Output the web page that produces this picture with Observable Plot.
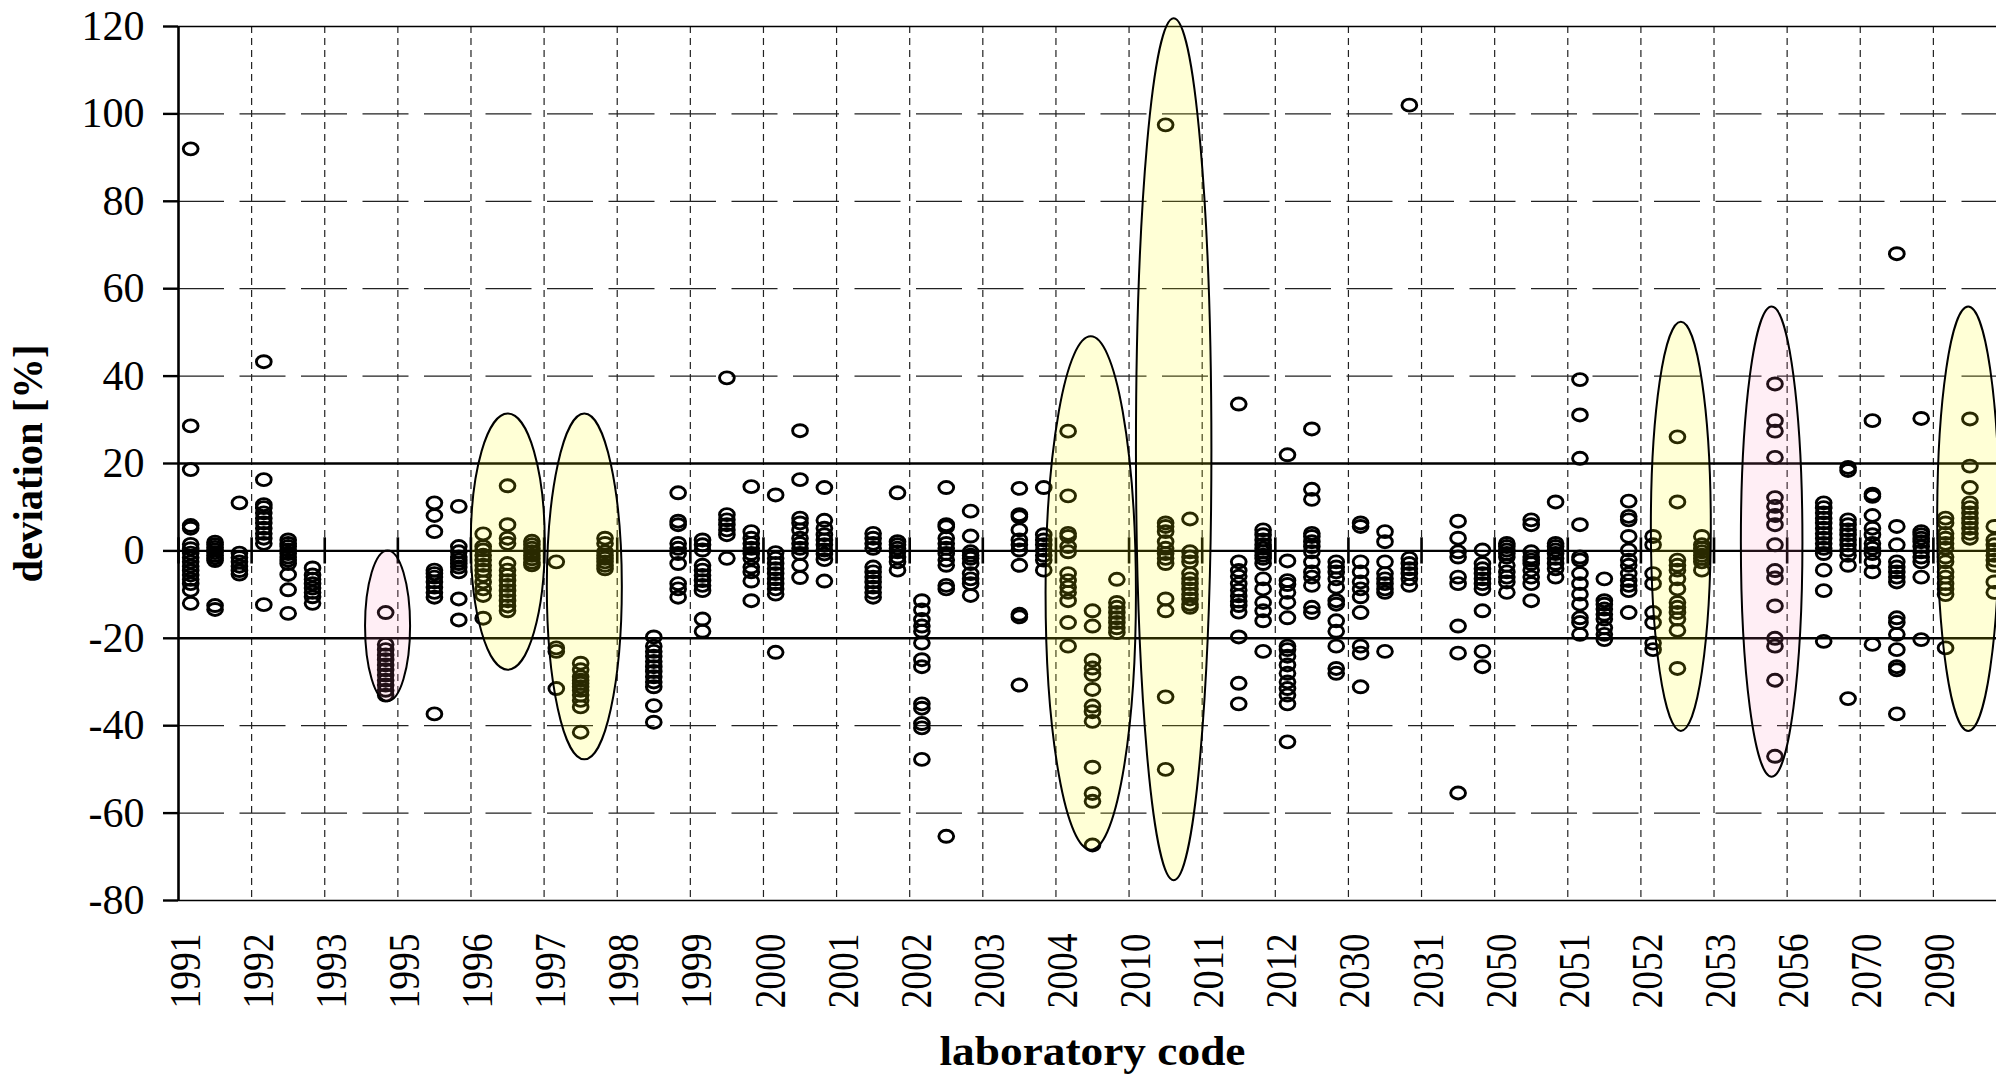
<!DOCTYPE html>
<html><head><meta charset="utf-8">
<script src="https://cdn.jsdelivr.net/npm/d3@7"></script>
<script src="https://cdn.jsdelivr.net/npm/@observablehq/plot@0.6"></script>
<style>html,body{margin:0;padding:0;background:#fff;overflow:hidden;} svg{max-width:none !important;}</style>
</head><body><div id="chart"></div>
<script>
const labs = ["1991","1992","1993","1995","1996","1997","1998","1999","2000","2001","2002","2003","2004","2010","2011","2012","2030","2031","2050","2051","2052","2053","2056","2070","2090"];

// first sample column of each laboratory band
const sampleA = [
  [92, 28.6, 18.6, 5.8, 5.2, 1.5, 0.5, -0.5, -1.5, -2.5, -3.5, -4.5, -5.5, -6.5, -7.5, -9, -12],
  [43.3, 16.3, 10.6, 9.9, 8.7, 7.5, 6.4, 5.2, 4, 2.9, 1.7, -12.3],
  [],
  [],
  [3.9, 1, 0.2, -1, -2.1, -3.3, -4.4, -5.6, -7.1, -8.7, -10.2, -15.4],
  [-2.5, -22.2, -23, -31.5],
  [],
  [2.5, 1.4, 0.2, -3.3, -4.4, -5.6, -6.8, -7.9, -9.1, -15.6, -18.4],
  [12.8, -0.4, -1.7, -2.9, -4.1, -5.2, -6.4, -7.5, -8.7, -9.9, -23.2],
  [],
  [-11.4, -13.5, -15.7, -17.2, -18.4, -21.1, -24.9, -26.5, -35, -36, -39.5, -40.5, -47.7],
  [],
  [27.4, 12.6, 4, 3.3, 1, -0.2, -5.2, -6.8, -8.3, -9.5, -11.4, -16.4, -21.8],
  [],
  [],
  [22, -2.3, -6.8, -7.7, -9.5, -11.8, -15.3, -21.8, -22.6, -24.1, -26.1, -28, -30, -31.5, -33, -35, -43.7],
  [6.4, 5.6, -2.5, -4.8, -7.1, -8.7, -10.5, -14.1, -21.8, -23.4, -31.1],
  [],
  [1.7, 1, 0.2, -0.6, -1.4, -3.3, -4.8, -6, -7.1, -9.5],
  [39.2, 31.1, 21.2, 6, -1.4, -2.1, -5.2, -7.5, -9.9, -12.2, -15.3, -16.4, -19.1],
  [3.3, 1.4, -5.2, -7.5, -14.1, -16.4, -21.1, -22.6],
  [],
  [],
  [29.8, 13, 12.5, 8.1, 5.2, 3.7, 1.7, 0.6, -0.6, -2.5, -4.8, -21.4],
  [7.5, 6.4, 4, 2.9, 1.7, 0.6, -1.4, -2.5, -4.8, -6, -7.5, -8.7, -10, -22.2]
];

// second sample column
const sampleB = [
  [2, 1.4, 0.8, 0.2, -0.4, -1, -1.6, -2.2, -12.5, -13.4],
  [2.5, 1.7, 1, 0.2, -0.6, -1.4, -2.1, -2.9, -5.4, -8.9, -14.3],
  [],
  [11, 8.1, 4.4, -4.4, -5.2, -6, -7.1, -8.3, -9.5, -10.6, -37.3],
  [14.9, 6, 2.9, 1.7, -2.9, -4.4, -5.6, -6.8, -7.9, -9.1, -10.2, -11.4, -12.6, -13.7],
  [-25.7, -27.2, -28.8, -29.6, -30.3, -31.1, -31.9, -33, -34.2, -35.7, -41.5],
  [-19.7, -21.8, -23, -24.1, -25.3, -26.5, -27.6, -28.8, -30, -31.1, -35.4, -39.2],
  [39.6, 8.3, 7.1, 6, 4.8, 3.7, -1.7],
  [27.5, 16.3, 7.5, 6.4, 4.8, 2.9, 1.7, 0.6, -0.6, -3.3, -6.1],
  [4, 2.9, 1.7, 0.6, -3.7, -4.8, -6, -7.1, -8.3, -9.5, -10.6],
  [14.5, 6, 5.5, 2.9, 1.7, 0.6, -0.6, -2.1, -3.3, -7.9, -8.7, -65.3],
  [14.3, 8.3, 7.8, 4.8, 2.5, 1.4, 0.2, -3.3, -14.5, -15.1, -30.7],
  [-13.7, -17.2, -25, -26.8, -28.3, -31.7, -35.5, -36.8, -39, -49.5, -55.5, -57.3, -67.3],
  [97.5, 6.4, 5.6, 4.4, 2.1, 0.6, -0.6, -1.7, -2.9, -11, -13.7, -33.4, -50],
  [33.6, -2.5, -4.5, -5.8, -7.5, -9, -10.3, -11.5, -12.5, -14, -19.7, -30.3, -35],
  [27.9, 14.1, 11.8, 4, 3.3, 2.1, 1, -0.2, -2.5, -4.8, -6, -7.9, -12.9, -14.1],
  [4.4, 2.1, -2.5, -5.2, -6.4, -7.5, -8.7, -9.5, -23],
  [6.8, 2.9, -0.2, -1.4, -6, -7.5, -17.2, -23.4, -55.4],
  [7.1, 6, -0.2, -1.4, -2.1, -2.9, -4.4, -6, -7.5, -11.4],
  [-6.4, -11.4, -12.2, -13.3, -14.5, -15.6, -17.6, -19.1, -20.3],
  [26.1, 11.2, -2.1, -3.3, -4.4, -6.4, -8.7, -11.8, -12.9, -14.1, -15.6, -18.2, -26.9],
  [],
  [11, 9.9, 8.7, 7.5, 6.4, 5.2, 4, 2.9, 1.7, 0.6, -0.6, -4.4, -9.1, -20.7],
  [68, 5.6, 1.4, -2.5, -3.7, -4.8, -6, -7.1, -15.3, -16.4, -19.1, -22.6, -26.5, -27.2, -37.3],
  [30.2, 19.4, 14.5, 11, 9.9, 8.7, 7.5, 6.4, 5.2, 4, 2.9]
];

// third sample column
const sampleC = [
  [11, -0.5, -1.5, -2.5, -3.5, -4.5, -5.3],
  [-3.9, -5.5, -6.5, -7.5, -8.5, -9.5, -10.5, -12],
  [-14.1, -21.4, -22.6, -23.8, -24.9, -26.1, -27.2, -28.4, -29.6, -30.7, -31.9, -33],
  [10.2, 1, -0.2, -1.4, -2.1, -2.9, -3.7, -4.8, -11, -15.8],
  [2.2, 1.4, 0.6, -0.2, -1, -1.8, -2.6, -3.2],
  [2.9, 1.7, -0.2, -1, -1.7, -2.5, -3.3, -4.1],
  [13.3, 6.8, 6, 1.7, 0.6, -0.6, -2.9, -7.5, -8.7, -10.6],
  [14.7, 4.4, 2.9, 1.7, 0.6, -0.6, -1.7, -3.7, -4.8, -6.9, -11.4],
  [14.5, 7, 5.2, 3.7, 2.5, 1.4, 0.2, -0.7, -2, -6.9],
  [13.3, 2.1, 1.4, 0.6, -0.2, -1.4, -2.5, -4.4],
  [9.1, 3.4, -0.2, -1, -1.7, -2.9, -5.2, -6.4, -7.5, -10.2],
  [14.5, 3.7, 2.5, 1.4, 0.2, -1, -2.1, -4.4],
  [-6.5, -11.8, -12.9, -14.1, -15.3, -16.4, -17.6, -18.7],
  [7.3, -0.2, -1.4, -2.5, -5.2, -6.4, -7.5, -8.7, -9.9, -11, -12.2, -12.9],
  [4.8, 3.7, 2.5, 1.4, 0.6, -0.2, -1, -1.7, -2.9, -6.4, -8.7, -11.8, -13.7, -16, -23],
  [-2.5, -3.7, -4.8, -6.4, -8.3, -11.4, -12.2, -16, -18.4, -21.8, -26.9, -28],
  [102, -1.7, -2.9, -4.1, -5.2, -6.4, -7.9],
  [0.2, -2.9, -4.1, -5.2, -6.4, -7.5, -8.7, -13.7, -23, -26.5],
  [11.2, 1.7, 1, 0.2, -0.6, -1.7, -2.9, -4.1, -6],
  [11.4, 7.9, 7.1, 3.3, 0.2, -2.1, -3.3, -5.2, -6.8, -7.9, -9.1, -14.1],
  [3.3, 1.4, 0.6, -0.2, -1, -1.7, -2.5, -4.4],
  [38.2, 29.8, 27.4, 21.4, 12.2, 10.2, 8.1, 6, 1.4, -4.5, -6.2, -12.6, -20, -21.8, -29.6, -47],
  [19.1, 18.4, 7.1, 6, 4.8, 3.7, 2.5, 1.4, 0.2, -1, -3.3, -33.8],
  [30.3, 4.4, 3.7, 2.9, 2.1, 1, -0.2, -1.4, -2.5, -6, -20.3],
  [5.6, 2.5, 1.4, 0.2, -1, -2.1, -3.3, -7.1, -9.5]
];

const yTicks = [-80, -60, -40, -20, 0, 20, 40, 60, 80, 100, 120];
const dashedLevels = [100, 80, 60, 40, -40, -60];
const limitLevels = [20, 0, -20];

// highlighted groups (x in laboratory-band units, y in %)
const ellipseCenter = [2.866, 4.51, 5.557, 12.483, 13.617, 20.553, 21.795, 24.483];
const ellipseHalfWidth = [0.308, 0.506, 0.513, 0.618, 0.516, 0.41, 0.421, 0.424];
const ellipseTop = [0, 31.3, 31.3, 49, 121.8, 52.3, 55.8, 55.8];
const ellipseBottom = [-34.5, -27.3, -47.8, -68.5, -75.5, -41.3, -51.8, -41.3];
const ellipseKind = ["pink", "yellow", "yellow", "yellow", "yellow", "yellow", "pink", "yellow"];

const samples = [sampleA, sampleB, sampleC];
const points = [];
labs.forEach((lab, i) => samples.forEach((s, j) => s[i].forEach(v => points.push({lab, i, j, v}))));
const nBands = labs.length;

const ovalMarker = {
  draw(ctx) {
    const rx = 7.4, ry = 6.0, k = 0.5523;
    ctx.moveTo(rx, 0);
    ctx.bezierCurveTo(rx, k * ry, k * rx, ry, 0, ry);
    ctx.bezierCurveTo(-k * rx, ry, -rx, k * ry, -rx, 0);
    ctx.bezierCurveTo(-rx, -k * ry, -k * rx, -ry, 0, -ry);
    ctx.bezierCurveTo(k * rx, -ry, rx, -k * ry, rx, 0);
    ctx.closePath();
  }
};

const tickOffset = 0.095;
const serif = "'Liberation Serif', 'Times New Roman', Times, serif";

const plot = Plot.plot({
  width: 2030,
  height: 1075,
  marginLeft: 178,
  marginRight: 24,
  marginTop: 26,
  marginBottom: 175,
  style: {fontFamily: serif, background: "#fff", color: "#000", overflow: "visible", maxWidth: "none"},
  x: {domain: [0, nBands], axis: null},
  y: {domain: [-80, 120], axis: null},
  marks: [
    Plot.ruleY(dashedLevels, {stroke: "#222", strokeWidth: 1.3, strokeDasharray: "46,15.5"}),
    Plot.ruleX(d3.range(1, nBands), {stroke: "#222", strokeWidth: 1.2, strokeDasharray: "7,5"}),
    Plot.ruleY(limitLevels, {stroke: "#000", strokeWidth: 2.4}),
    Plot.ruleY([120, -80], {stroke: "#000", strokeWidth: 1.5}),
    Plot.ruleX([nBands], {stroke: "#000", strokeWidth: 1.5}),
    Plot.ruleX(d3.range(0, nBands + 1), {y1: -3, y2: 3, stroke: "#000", strokeWidth: 2.6}),
    Plot.dot(points, {x: d => d.i + (2 * d.j + 1) / 6, y: "v", symbol: ovalMarker, r: 6, stroke: "#000", strokeWidth: 2.9, fill: "none"}),
    Plot.ruleX([0], {stroke: "#000", strokeWidth: 2.6}),
    Plot.axisY({ticks: yTicks, tickSize: 15, tickPadding: 19, fontSize: 42, tickFormat: d => String(d), label: null, strokeWidth: 2.4}),
    Plot.axisX({ticks: d3.range(nBands).map(i => i + tickOffset), tickFormat: d => labs[Math.round(d - tickOffset)], tickRotate: -90, tickSize: 0, tickPadding: 33, fontSize: 44, label: null}),
    Plot.text(["laboratory code"], {frameAnchor: "bottom", dy: 151, lineAnchor: "middle", textAnchor: "middle", fontSize: 42, fontWeight: "bold"}),
    Plot.text(["deviation [%]"], {frameAnchor: "left", dx: -150, rotate: -90, textAnchor: "middle", lineAnchor: "middle", fontSize: 42, fontWeight: "bold"})
  ]
});

// highlight ellipses, drawn through the plot's own scales
const xs = plot.scale("x"), ys = plot.scale("y");
const fx = v => xs.apply(v), fy = v => ys.apply(v);
const fills = {yellow: ["rgb(255,255,0)", 0.16], pink: ["rgb(255,120,180)", 0.13]};
const g = d3.select(plot).append("g").attr("aria-label", "highlights");
ellipseCenter.forEach((c, k) => {
  const cx = fx(c), rx = fx(c + ellipseHalfWidth[k]) - cx;
  const y1 = fy(ellipseTop[k]), y2 = fy(ellipseBottom[k]);
  g.append("ellipse")
    .attr("cx", cx).attr("cy", (y1 + y2) / 2)
    .attr("rx", rx).attr("ry", Math.abs(y2 - y1) / 2)
    .attr("fill", fills[ellipseKind[k]][0])
    .attr("fill-opacity", fills[ellipseKind[k]][1])
    .attr("stroke", "#000").attr("stroke-width", 2);
});

// condense label lengths to the reference proportions
const texts = d3.select(plot).selectAll("text");
texts.filter(function() { return labs.includes(this.textContent); })
  .attr("textLength", 75).attr("lengthAdjust", "spacingAndGlyphs");
texts.filter(function() { return this.textContent === "laboratory code"; })
  .attr("textLength", 306).attr("lengthAdjust", "spacingAndGlyphs");
texts.filter(function() { return this.textContent === "deviation [%]"; })
  .attr("textLength", 238).attr("lengthAdjust", "spacingAndGlyphs");

plot.style.maxWidth = "none";
plot.setAttribute("width", 2030);
document.getElementById("chart").appendChild(plot);
</script>
</body></html>
